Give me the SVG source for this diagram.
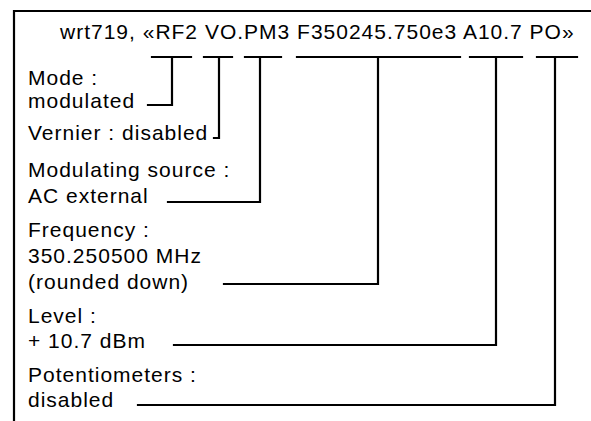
<svg xmlns="http://www.w3.org/2000/svg" width="591" height="421" viewBox="0 0 591 421">
<style>
text{font-family:"Liberation Sans",Arial,sans-serif;font-size:21px;fill:#000;letter-spacing:1px}
.ln{fill:none;stroke:#000;stroke-width:2.2;stroke-linecap:square;stroke-linejoin:miter}
</style>
<rect width="591" height="421" fill="#fff"/>
<g id="frame"><path class="ln" d="M14,421 V11 H591"/></g>
<g id="title"><text x="60" y="39">wrt719, «RF2 VO.PM3 F350245.750e3 A10.7 PO»</text></g>
<g id="mode"><text x="28" y="85">Mode :</text><text x="28" y="108">modulated</text></g>
<g id="vernier"><text x="28" y="140">Vernier : disabled</text></g>
<g id="modsource"><text x="28" y="177">Modulating source :</text><text x="28" y="203">AC external</text></g>
<g id="frequency"><text x="28" y="237">Frequency :</text><text x="28" y="263">350.250500 MHz</text><text x="28" y="289">(rounded down)</text></g>
<g id="level"><text x="28" y="323">Level :</text><text x="28" y="348">+ 10.7 dBm</text></g>
<g id="potentiometers"><text x="28" y="382">Potentiometers :</text><text x="28" y="407">disabled</text></g>
<g id="connectors">
<path class="ln" d="M152,57 H191 M172,57 V105 H148"/>
<path class="ln" d="M204,57 H232 M219,57 V138 H214"/>
<path class="ln" d="M245,57 H281 M260,57 V202 H168"/>
<path class="ln" d="M297,57 H460 M378,57 V284 H224"/>
<path class="ln" d="M470,57 H522 M496,57 V345 H174"/>
<path class="ln" d="M537,57 H577 M555,57 V405 H138"/>
</g>
</svg>
